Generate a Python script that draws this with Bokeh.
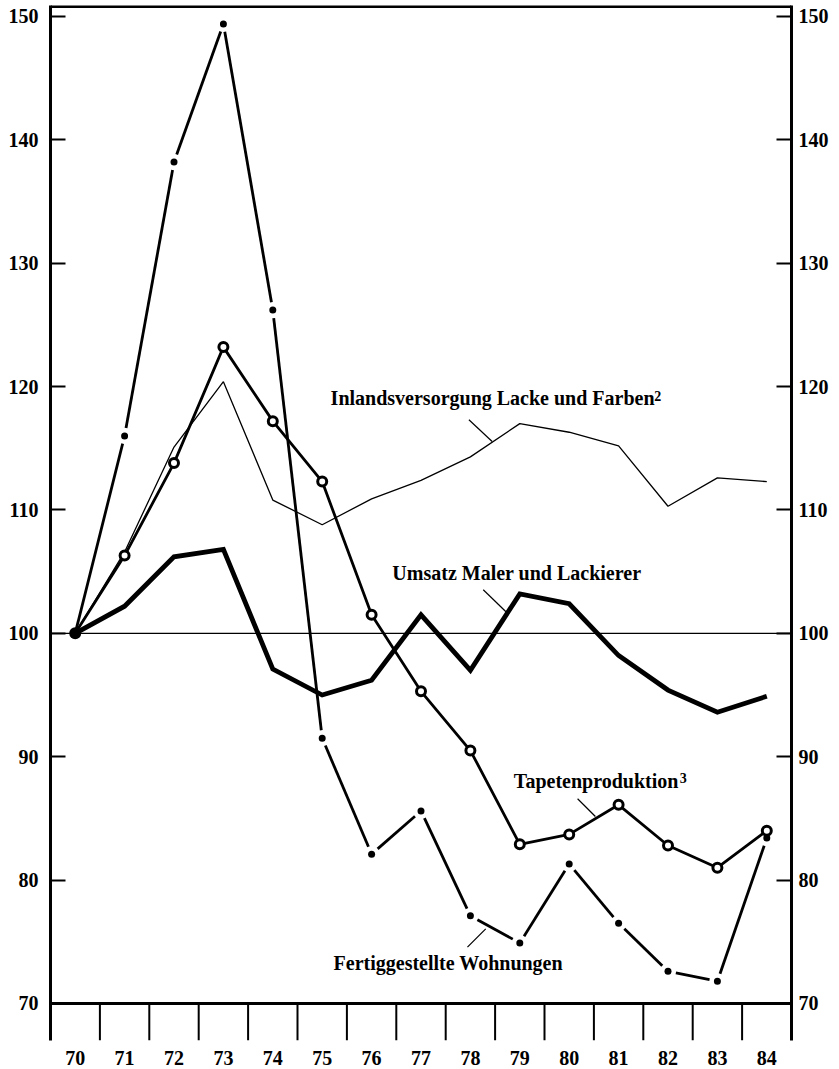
import numpy as np
from bokeh.plotting import figure
from bokeh.models import Range1d, LinearAxis, FixedTicker, Span, Label
from bokeh.embed import file_html
from bokeh.resources import INLINE

# ---------------- data ----------------
years = [70, 71, 72, 73, 74, 75, 76, 77, 78, 79, 80, 81, 82, 83, 84]
year_labels = ["70", "71", "72", "73", "74", "75", "76", "77", "78", "79", "80", "81", "82", "83", "84"]
y_ticks = [70, 80, 90, 100, 110, 120, 130, 140, 150]
baseline = 100

wohnungen = [100, 116.0, 138.2, 149.4, 126.2, 91.5, 82.1, 85.6, 77.1, 74.9, 81.3, 76.5, 72.6, 71.8, 83.4]
tapeten = [100, 106.3, 113.8, 123.2, 117.2, 112.3, 101.5, 95.3, 90.5, 82.9, 83.7, 86.1, 82.8, 81.0, 84.0]
lacke = [100, 106.6, 115.1, 120.4, 110.8, 108.8, 110.9, 112.4, 114.3, 117.0, 116.3, 115.2, 110.3, 112.6, 112.3]
umsatz = [100, 102.2, 106.2, 106.8, 97.1, 95.0, 96.2, 101.5, 97.0, 103.2, 102.4, 98.2, 95.4, 93.6, 94.9]

label_lacke = "Inlandsversorgung Lacke und Farben"
label_umsatz = "Umsatz Maler und Lackierer"
label_tapeten = "Tapetenproduktion"
label_wohnungen = "Fertiggestellte Wohnungen"
note_lacke = "2"
note_tapeten = "3"

# ---------------- layout ----------------
W, H = 836, 1068
ML, MR, MT, MB = 50, 45, 5, 28
FW_, FH_ = W - ML - MR, H - MT - MB
X0, X1 = years[0] - 0.5, years[-1] + 0.5
Y1 = 150.89
Y0 = Y1 - FH_ / 12.337
FONT = "Liberation Serif"

p = figure(width=W, height=H, output_backend="svg", toolbar_location=None,
           x_range=Range1d(X0, X1), y_range=Range1d(Y0, Y1),
           min_border_left=ML, min_border_right=MR, min_border_top=MT, min_border_bottom=MB,
           background_fill_color="white", border_fill_color="white")
p.outline_line_color = None
p.xgrid.visible = False
p.ygrid.visible = False
p.yaxis.visible = False
p.xaxis.visible = False

def style_y(ax, standoff):
    ax.ticker = FixedTicker(ticks=y_ticks, minor_ticks=[])
    ax.major_tick_in = 15
    ax.major_tick_out = 0
    ax.minor_tick_line_color = None
    ax.major_tick_line_width = 2
    ax.axis_line_width = 3
    ax.axis_line_color = "black"
    ax.major_label_standoff = standoff
    ax.major_label_text_font = FONT
    ax.major_label_text_font_style = "bold"
    ax.major_label_text_font_size = "20px"
    ax.major_label_text_color = "black"

left = LinearAxis()
style_y(left, 12)
p.add_layout(left, "left")
right = LinearAxis()
style_y(right, 7)
p.add_layout(right, "right")

bottom = LinearAxis()
bottom.ticker = FixedTicker(ticks=years, minor_ticks=[])
bottom.major_label_overrides = {y: s for y, s in zip(years, year_labels)}
bottom.axis_line_color = None
bottom.major_tick_line_color = None
bottom.minor_tick_line_color = None
bottom.major_label_standoff = 4
bottom.major_label_text_font = FONT
bottom.major_label_text_font_style = "bold"
bottom.major_label_text_font_size = "20px"
bottom.major_label_text_color = "black"
p.add_layout(bottom, "below")

# frame top and base line at 70
p.add_layout(Span(location=Y1 - 0.08, dimension="width", line_color="black", line_width=3))
p.add_layout(Span(location=y_ticks[0], dimension="width", line_color="black", line_width=3))
# year boundary ticks below the 70 line
bounds = [y + 0.5 for y in years[:-1]]
p.segment(x0=bounds, y0=[Y0] * len(bounds), x1=bounds, y1=[y_ticks[0]] * len(bounds),
          line_color="black", line_width=2)

# 100 reference line
p.add_layout(Span(location=baseline, dimension="width", line_color="black", line_width=1.3))

# series
p.line(years, lacke, line_color="black", line_width=1.3)
p.line(years, umsatz, line_color="black", line_width=4.8, line_join="miter")
p.line(years, tapeten, line_color="black", line_width=2.8)
p.scatter(years[1:], tapeten[1:], marker="circle", size=9, line_color="black",
          line_width=3, fill_color="white")

# Fertiggestellte Wohnungen: segments with gaps around dots
px_x = FW_ / (X1 - X0)
px_y = FH_ / (Y1 - Y0)
xs = np.array(years, dtype=float)
ys = np.array(wohnungen, dtype=float)
dxs, dys = np.diff(xs), np.diff(ys)
L = np.hypot(dxs * px_x, dys * px_y)
gap = 8.0
g0 = np.full(len(L), gap)
g0[0] = 0.0
sx0 = xs[:-1] + dxs * g0 / L
sy0 = ys[:-1] + dys * g0 / L
sx1 = xs[1:] - dxs * gap / L
sy1 = ys[1:] - dys * gap / L
p.segment(x0=sx0, y0=sy0, x1=sx1, y1=sy1, line_color="black", line_width=2.8)
p.scatter(years[1:], wohnungen[1:], marker="circle", size=7, fill_color="black", line_color=None)

# common start point
p.scatter([years[0]], [wohnungen[0]], marker="circle", size=12, fill_color="black", line_color=None)

# series labels and leader lines
lab_kw = dict(text_font=FONT, text_font_style="bold", text_font_size="20px",
              text_color="black", text_baseline="middle", text_align="left")
sup_kw = dict(text_font=FONT, text_font_style="bold", text_font_size="14px",
              text_color="black", text_baseline="middle", text_align="left")
p.add_layout(Label(x=75.17, y=119.04, text=label_lacke, **lab_kw))
p.add_layout(Label(x=81.72, y=119.2, text=note_lacke, **sup_kw))
p.add_layout(Label(x=76.42, y=104.85, text=label_umsatz, **lab_kw))
p.add_layout(Label(x=78.88, y=88.07, text=label_tapeten, **lab_kw))
p.add_layout(Label(x=82.24, y=88.25, text=note_tapeten, **sup_kw))
p.add_layout(Label(x=75.23, y=73.24, text=label_wohnungen, **lab_kw))

p.segment(x0=[77.97, 78.26, 80.17, 77.94], y0=[117.31, 103.53, 86.59, 74.56],
          x1=[78.44, 78.73, 80.53, 78.31], y1=[115.55, 101.71, 85.15, 76.05],
          line_color="black", line_width=1.2)

open("out.html", "w").write(file_html(p, INLINE))
